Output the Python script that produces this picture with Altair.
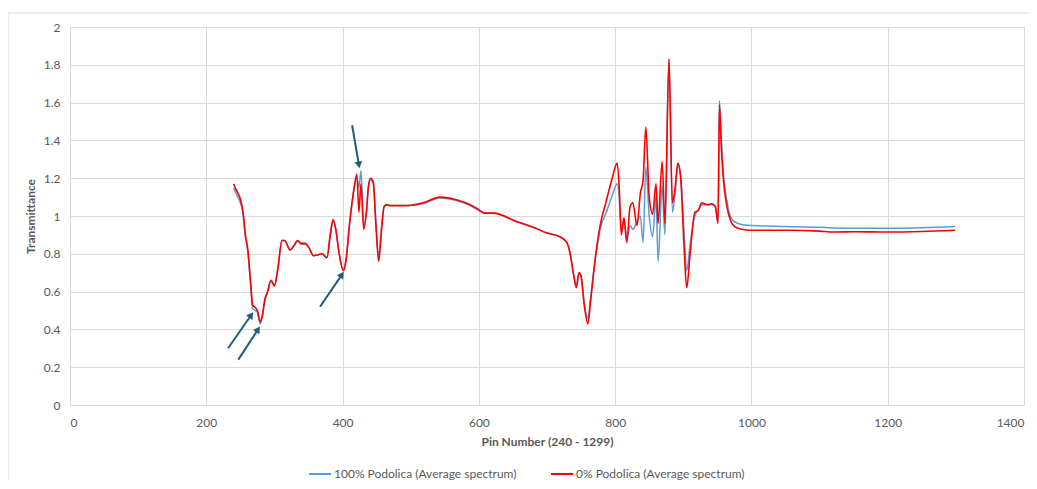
import altair as alt
import pandas as pd

pins = [240, 245, 250, 254, 257, 261, 265, 268, 272, 275, 279, 282, 286, 290, 295, 300,
        305, 311, 315, 323, 328, 334, 340, 345, 351, 357, 364, 370, 377, 382, 386, 390,
        395, 401, 405, 410, 415, 421, 424, 427, 431, 435, 438, 441, 445, 449, 453, 457,
        461, 465, 469, 494, 518, 543, 568, 587, 597, 609, 621, 656, 680, 700, 719, 729,
        734, 739, 743, 747, 750, 755, 760, 764, 770, 778, 787, 795, 803, 806, 809, 813,
        817, 822, 826, 832, 837, 841, 845, 850, 855, 860, 863, 869, 873, 879, 884, 888,
        892, 896, 901, 905, 910, 917, 922, 927, 935, 942, 947, 951, 953, 956, 959, 964,
        969, 975, 985, 1000, 1050, 1100, 1120, 1150, 1200, 1250, 1299]

red_vals = [1.17, 1.13, 1.09, 1.02, 0.91, 0.82, 0.65, 0.53, 0.515, 0.50, 0.44, 0.47, 0.56, 0.60, 0.66, 0.63,
            0.72, 0.87, 0.87, 0.82, 0.84, 0.87, 0.855, 0.855, 0.83, 0.79, 0.795, 0.80, 0.78, 0.90, 0.98, 0.93,
            0.80, 0.71, 0.76, 0.95, 1.10, 1.22, 1.02, 1.17, 0.93, 1.02, 1.16, 1.20, 1.18, 0.95, 0.76, 0.92,
            1.05, 1.06, 1.055, 1.055, 1.07, 1.10, 1.085, 1.06, 1.04, 1.015, 1.015, 0.97, 0.94, 0.91, 0.89, 0.86,
            0.80, 0.69, 0.62, 0.70, 0.68, 0.52, 0.43, 0.55, 0.75, 0.95, 1.08, 1.19, 1.28, 1.15, 0.90, 0.99,
            0.86, 1.05, 1.07, 0.95, 1.12, 1.19, 1.47, 1.10, 1.01, 1.17, 0.96, 1.29, 0.96, 1.83, 1.07, 1.15,
            1.28, 1.21, 0.85, 0.62, 0.80, 1.02, 1.03, 1.07, 1.06, 1.065, 1.05, 0.96, 1.59, 1.35, 1.19, 1.05,
            0.98, 0.945, 0.93, 0.925, 0.925, 0.92, 0.915, 0.917, 0.915, 0.918, 0.925]

blue_vals = [1.15, 1.11, 1.07, 1.01, 0.90, 0.81, 0.64, 0.51, 0.50, 0.49, 0.43, 0.46, 0.55, 0.60, 0.66, 0.63,
             0.72, 0.87, 0.87, 0.82, 0.84, 0.865, 0.85, 0.85, 0.83, 0.79, 0.795, 0.80, 0.78, 0.90, 0.98, 0.93,
             0.80, 0.72, 0.77, 0.95, 1.10, 1.20, 1.15, 1.24, 0.95, 1.02, 1.15, 1.19, 1.17, 0.96, 0.78, 0.93,
             1.05, 1.06, 1.055, 1.055, 1.065, 1.095, 1.08, 1.055, 1.035, 1.015, 1.015, 0.97, 0.94, 0.91, 0.89, 0.86,
             0.80, 0.69, 0.63, 0.70, 0.68, 0.53, 0.46, 0.57, 0.75, 0.93, 1.02, 1.10, 1.17, 1.10, 0.92, 0.98,
             0.88, 0.95, 0.93, 0.97, 1.00, 0.86, 1.26, 1.00, 0.89, 1.10, 0.76, 1.16, 0.90, 1.83, 1.02, 1.12,
             1.27, 1.22, 0.92, 0.71, 0.85, 1.00, 1.03, 1.06, 1.06, 1.06, 1.05, 0.97, 1.61, 1.40, 1.22, 1.08,
             1.00, 0.97, 0.955, 0.95, 0.945, 0.94, 0.937, 0.935, 0.935, 0.938, 0.945]

series_names = ["100% Podolica (Average spectrum)", "0% Podolica (Average spectrum)"]
series_colors = ["#5B9BD5", "#FF0000"]

# annotation arrows (data units): tail -> tip
arrow_x = [232, 247, 367, 414]
arrow_y = [0.30, 0.24, 0.52, 1.48]
arrow_x2 = [266, 276, 399, 424]
arrow_y2 = [0.476, 0.40, 0.69, 1.27]
arrow_angle = [35, 34, 34, 170]

x_ticks = [0, 200, 400, 600, 800, 1000, 1200, 1400]
y_ticks = [0, 0.2, 0.4, 0.6, 0.8, 1.0, 1.2, 1.4, 1.6, 1.8, 2.0]

df = pd.concat([
    pd.DataFrame({"pin": pins, "value": blue_vals, "series": series_names[0]}),
    pd.DataFrame({"pin": pins, "value": red_vals, "series": series_names[1]}),
])
arrows = pd.DataFrame({"x": arrow_x, "y": arrow_y, "x2": arrow_x2, "y2": arrow_y2, "angle": arrow_angle})

FONT = "Lato"
GRAY = "#595959"

xscale = alt.Scale(domain=[0, 1400], nice=False)
yscale = alt.Scale(domain=[0, 2], nice=False)

xaxis = alt.Axis(values=x_ticks, tickCount=20, format="d", title="Pin Number (240 - 1299)",
                 grid=True, gridColor="#D9D9D9", ticks=False, domain=True, domainColor="#D9D9D9",
                 labelPadding=12, titlePadding=8, labelFont=FONT, labelFontSize=12,
                 labelColor=GRAY, titleFont=FONT, titleFontSize=12, titleColor=GRAY,
                 titleFontWeight="bold", labelOverlap=False)
yaxis = alt.Axis(values=y_ticks, tickCount=20, format="~g", title="Transmittance",
                 grid=True, gridColor="#D9D9D9", ticks=False, domain=False,
                 labelPadding=10, titlePadding=6, labelFont=FONT, labelFontSize=12,
                 labelColor=GRAY, titleFont=FONT, titleFontSize=12, titleColor=GRAY,
                 titleFontWeight="bold", labelOverlap=False)

color = alt.Color(
    "series:N",
    scale=alt.Scale(domain=series_names, range=series_colors),
    sort=series_names,
    legend=alt.Legend(
        title=None, orient="none", direction="horizontal", legendX=238, legendY=435,
        symbolType="stroke", symbolSize=484, symbolStrokeWidth=2, columnPadding=30,
        labelFont=FONT, labelFontSize=12, labelColor=GRAY, labelOffset=2, labelLimit=0,
    ),
)

def X(field):
    return alt.X(field, type="quantitative", scale=xscale, axis=xaxis)

def Y(field):
    return alt.Y(field, type="quantitative", scale=yscale, axis=yaxis)

blue = alt.Chart(df).transform_filter(alt.datum.series == series_names[0]).mark_line(
    interpolate="monotone", strokeWidth=1.5).encode(x=X("pin"), y=Y("value"), color=color)
red = alt.Chart(df).transform_filter(alt.datum.series == series_names[1]).mark_line(
    interpolate="monotone", strokeWidth=1.6).encode(x=X("pin"), y=Y("value"), color=color)

arrow_lines = alt.Chart(arrows).mark_rule(color="#1E5D7D", strokeWidth=2).encode(
    x=X("x"), y=Y("y"), x2="x2:Q", y2="y2:Q")
arrow_heads = alt.Chart(arrows).mark_point(shape="triangle-up", filled=True, color="#1E5D7D",
                                           size=60, opacity=1).encode(
    x=X("x2"), y=Y("y2"), angle=alt.Angle("angle:Q", scale=None))

border_top = alt.Chart(pd.DataFrame({"a": [0]})).mark_rule(color="#D9D9D9", strokeWidth=1, clip=False).encode(
    x=alt.value(-62), x2=alt.value(1020), y=alt.value(-14))
border_left = alt.Chart(pd.DataFrame({"a": [0]})).mark_rule(color="#D9D9D9", strokeWidth=1, clip=False).encode(
    x=alt.value(-62), y=alt.value(-14), y2=alt.value(470))

chart = alt.layer(border_top, border_left, blue, red, arrow_lines, arrow_heads).properties(
    width=954, height=378,
    autosize=alt.AutoSizeParams(type="none"),
    padding={"left": 62, "top": 19, "right": 5, "bottom": 76},
).configure_view(stroke=None).configure(background="white")

chart.save("out.html", embed_options={"renderer": "svg", "actions": False})
